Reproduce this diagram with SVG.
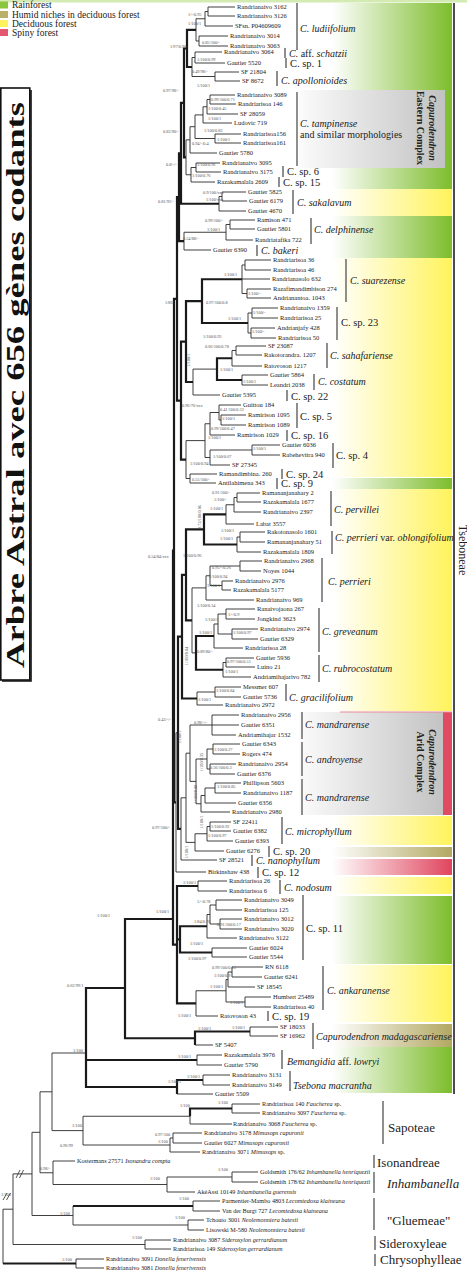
<svg xmlns="http://www.w3.org/2000/svg" width="467" height="1275" viewBox="0 0 467 1275">
<defs>
<linearGradient id="gG" gradientUnits="userSpaceOnUse" x1="332" y1="0" x2="452" y2="0"><stop offset="0" stop-color="#ffffff"/><stop offset="1" stop-color="#7dbd2b"/></linearGradient>
<linearGradient id="gY" gradientUnits="userSpaceOnUse" x1="332" y1="0" x2="452" y2="0"><stop offset="0" stop-color="#ffffff"/><stop offset="1" stop-color="#fff35c"/></linearGradient>
<linearGradient id="gO" gradientUnits="userSpaceOnUse" x1="332" y1="0" x2="452" y2="0"><stop offset="0" stop-color="#ffffff"/><stop offset="1" stop-color="#b3a862"/></linearGradient>
<linearGradient id="gR" gradientUnits="userSpaceOnUse" x1="332" y1="0" x2="452" y2="0"><stop offset="0" stop-color="#ffffff"/><stop offset="1" stop-color="#e0455e"/></linearGradient>
<linearGradient id="gK" gradientUnits="userSpaceOnUse" x1="299" y1="0" x2="445" y2="0"><stop offset="0" stop-color="#fbfbfb"/><stop offset="1" stop-color="#c2c2c2"/></linearGradient>
</defs>
<style>
.b{fill:none;stroke:#2a2a2a;stroke-width:0.9}
.t{fill:none;stroke:#1a1a1a;stroke-width:2.2}
.bar{stroke:#444;stroke-width:1.2}
.l{font-family:"Liberation Serif",serif;font-size:6.5px;fill:#222}
.o{font-family:"Liberation Serif",serif;font-size:6.2px;fill:#222}
.s{font-family:"Liberation Serif",serif;font-size:4.3px;fill:#555}
.c{font-family:"Liberation Serif",serif;font-size:10px;fill:#222}
.cs{font-family:"Liberation Serif",serif;font-size:10.5px;fill:#222}
.g{font-family:"Liberation Serif",serif;font-size:13px;fill:#222}
.i{font-style:italic}
.lg{font-family:"Liberation Serif",serif;font-size:9.5px;fill:#222}
</style>
<rect x="0" y="0" width="467" height="2.5" fill="#d3ebb2"/>
<g id="legend">
<rect x="0" y="1.5" width="8" height="7" fill="#8cc63f"/><text class="lg" x="12" y="8">Rainforest</text>
<rect x="0" y="11" width="8" height="7" fill="#b9b06a"/><text class="lg" x="12" y="17.5">Humid niches in deciduous forest</text>
<rect x="0" y="20" width="8" height="7" fill="#fff35c"/><text class="lg" x="12" y="26.5">Deciduous forest</text>
<rect x="0" y="29" width="8" height="7" fill="#e4576e"/><text class="lg" x="12" y="35.5">Spiny forest</text>
</g>
<g id="title">
<rect x="0.8" y="88" width="29" height="592" fill="none" stroke="#111" stroke-width="1.6"/>
<path d="M31 90V681H2" fill="none" stroke="#111" stroke-width="1.6"/>
<text transform="translate(23.5,385) rotate(-90)" text-anchor="middle" font-family="Liberation Serif, serif" font-weight="bold" font-size="25" textLength="566" lengthAdjust="spacingAndGlyphs" fill="#111">Arbre Astral avec 656 gènes codants</text>
</g>
<g id="habitat-bands">
<rect x="330" y="3" width="122" height="186" fill="url(#gG)"/>
<rect x="330" y="189" width="122" height="27" fill="url(#gY)"/>
<rect x="330" y="216" width="122" height="42" fill="url(#gG)"/>
<rect x="330" y="258" width="122" height="219" fill="url(#gY)"/>
<rect x="330" y="478" width="122" height="11" fill="url(#gG)"/>
<rect x="330" y="489" width="122" height="222" fill="url(#gY)"/>
<rect x="330" y="816" width="122" height="29" fill="url(#gY)"/>
<rect x="330" y="847" width="122" height="10" fill="url(#gO)"/>
<rect x="330" y="859" width="122" height="16" fill="url(#gR)"/>
<rect x="330" y="877" width="122" height="17" fill="url(#gY)"/>
<rect x="330" y="896" width="122" height="68" fill="url(#gG)"/>
<rect x="330" y="965" width="122" height="57" fill="url(#gY)"/>
<rect x="330" y="1024" width="122" height="23" fill="url(#gO)"/>
<rect x="330" y="1047" width="122" height="46" fill="url(#gG)"/>
</g>
<g id="eastern-complex">
<rect x="299" y="90" width="146" height="78" fill="url(#gK)"/>
<text transform="translate(429,128) rotate(90)" text-anchor="middle" font-family="Liberation Serif, serif" font-size="10" font-weight="bold" font-style="italic" fill="#222">Capurodendron</text>
<text transform="translate(417,128) rotate(90)" text-anchor="middle" font-family="Liberation Serif, serif" font-size="10" font-weight="bold" fill="#222">Eastern Complex</text>
</g>
<g id="arid-complex">
<rect x="299" y="712" width="144" height="103" fill="url(#gK)"/>
<rect x="443" y="712" width="9" height="103" fill="#e04a63"/>
<line x1="340" y1="712" x2="452" y2="712" stroke="#e9889a" stroke-width="1.2"/>
<text transform="translate(429,762) rotate(90)" text-anchor="middle" font-family="Liberation Serif, serif" font-size="10" font-weight="bold" font-style="italic" fill="#222">Capurodendron</text>
<text transform="translate(417,762) rotate(90)" text-anchor="middle" font-family="Liberation Serif, serif" font-size="10" font-weight="bold" fill="#222">Arid Complex</text>
</g>
<g id="tseboneae">
<line x1="454" y1="3" x2="454" y2="1094" stroke="#111" stroke-width="1.5"/>
<text transform="translate(458.5,550) rotate(90)" text-anchor="middle" font-family="Liberation Serif, serif" font-size="12" fill="#222">Tseboneae</text>
</g>
<g id="connectors">
<g class="b">
<path d="M235 7H208V16H235"/><path d="M208 11.5H205V26H233"/><path d="M228 36H199V46H228"/><path d="M205 18.75H196V41H199"/>
<path d="M222 52H195V63H225"/><path d="M239 72H215V81H240"/><path d="M195 57.5H192V76.5H215"/>
<path d="M235 95H210V104H236"/><path d="M210 99.5H207V114H238"/><path d="M207 106.75H203V123H232"/><path d="M241 134H215V143H241"/><path d="M203 114.9H195V138.5H215"/><path d="M195 126.7H190V153H217"/>
<path d="M220 163H196V172H221"/><path d="M196 167.5H191V182H215"/><path d="M190 139.85H186V174.75H191"/>
<path d="M246 192H222V201H247"/><path d="M222 196.5H219V211H246"/>
<path d="M255 220H230V229H255"/><path d="M230 224.5H226V240H253"/><path d="M226 232.25H184V250H211"/>
<path d="M271 260H245V270H271"/><path d="M271 289H247V298H271"/><path d="M245 265H242V293.5H247M242 279H270"/>
<path d="M278 308H252V318H278"/><path d="M275 328H251V338H276"/><path d="M252 313H248V333H251"/>
<path d="M266 346H236V355H262"/><path d="M236 350.5H232V366H262"/><path d="M268 375H242V385H268"/><path d="M217 369.1H193V395H220"/>
<path d="M246 415H221V425H246"/><path d="M241 405H219V420H221"/><path d="M219 412.5H210V435H235"/>
<path d="M280 445H252V455H280"/><path d="M252 450H210V465H230"/><path d="M210 423.75H205V457.5H210"/>
<path d="M217 474H190V483H216"/><path d="M205 440.6H186V478.5H190"/>
<path d="M260 493H237V502H261"/><path d="M237 497.5H234V512H261"/><path d="M234 504.75H226V524H254"/>
<path d="M265 532H240V542H265"/><path d="M240 537H237V552H261"/>
<path d="M262 561H240V571H261"/><path d="M233 581H222V590H231"/><path d="M240 566H210V585.5H222"/><path d="M210 575.75H206V600H254"/>
<path d="M255 609H226V619H255"/><path d="M258 629H232V639H258"/><path d="M226 614H218V634H232"/><path d="M218 624H214V648H243"/>
<path d="M254 658H226V667H255"/><path d="M226 662.5H223V677H251"/><path d="M206 587.9H192V652.9H196"/>
<path d="M241 687H215V697H241"/><path d="M215 692H197V705H223"/>
<path d="M239 715H212V735H236M212 725H239"/><path d="M240 744H213V754H240"/><path d="M236 764H210V774H235"/><path d="M213 749H207V769H210"/>
<path d="M241 783H215V793H241"/><path d="M215 788H205V803H236"/><path d="M205 795.5H201V812H230"/><path d="M207 759H196V803.75H201"/><path d="M212 725H190V781.4H196"/>
<path d="M231 822H210V831H231"/><path d="M210 826.5H207V841H233"/><path d="M207 833.75H195V851H224"/><path d="M190 753.2H186V842.4H195"/><path d="M186 797.8H181V860H217"/>
<path d="M178 732.8H176V872H206"/>
<path d="M227 881H198V891H227"/>
<path d="M242 900H216V910H242"/><path d="M242 919H220V929H242"/><path d="M216 905H210V924H220"/><path d="M210 914.5H207V938H237"/><path d="M247 948H212V957H247"/>
<path d="M263 967H232V977H262"/><path d="M232 972H228V987H255"/><path d="M271 997H245V1007H271"/><path d="M228 979.5H226V1002H245"/><path d="M226 990.75H196V1016H218"/>
<path d="M278 1027H250V1036H278"/><path d="M195 1045H213"/>
<path d="M222 1055H197V1065H222"/><path d="M230 1075H203V1085H230"/><path d="M177 1094H213"/>
<path d="M260 1104H232V1113H260"/><path d="M232 1124H231M190 1116.25V1124H231"/><path d="M202 1133H173V1143H202"/><path d="M173 1138H170V1152H200"/><path d="M190 1116.25H83V1145H170"/>
<path d="M86 1053H52V1130.6H83"/>
<path d="M258 1172H232V1182H258"/><path d="M232 1177H167V1192H195"/><path d="M75 1161H53V1184.5H167"/><path d="M52 1091.8H40V1172.75H53"/>
<path d="M220 1201H193V1211H220"/><path d="M204 1220H188V1230H204"/><path d="M73 1206V1225H188"/><path d="M40 1132.3H32V1215.5H73"/>
<path d="M171 1240H145V1249H171"/><path d="M32 1173.9H13V1244.5H145"/><path d="M104 1259H76V1268H104"/><path d="M13 1209.2H3V1263.5"/>
<path d="M16 1178L20 1170M19.5 1178L23.5 1170M3 1200L7 1193M6.5 1200L10.5 1193" stroke-width="0.8"/>
</g>
<g class="t">
<path d="M196 29.9H187V67H192"/><path d="M187 48.5H184V157.3H186"/><path d="M184 102.9H181V203.75H219"/><path d="M181 153.3H179V241.1H184"/>
<path d="M242 279.25H202V323H248"/><path d="M232 358.25H217V380H242"/><path d="M202 301.1H186V382H193"/><path d="M186 341.6H181V459.55H186"/><path d="M179 197.2H177V400.6H181"/>
<path d="M226 514.4H204V544.5H237"/><path d="M214 636H196V669.75H223"/><path d="M204 529.45H186V620.4H192"/><path d="M186 574.9H182V698.5H197"/>
<path d="M182 636.7H178V828.9H181"/><path d="M177 298.9H174V802.4H176"/>
<path d="M207 926.25H180V952.5H212"/><path d="M198 886H177V1003.4H196M177 939.4H180"/><path d="M174 550.65H173V944.7H177"/>
<path d="M250 1031.5H195V1045"/><path d="M173 919H125V1038.25H195"/><path d="M203 1080H177V1094"/>
<path d="M125 988H86V1087H177M86 1060H197"/><path d="M232 1108.5H190V1116.25"/><path d="M193 1206H73"/><path d="M3 1263.5H76"/>
</g>
</g>
<g id="support-values" class="s">
<text x="188" y="15.5">1/-/0.95</text><text x="188" y="24.5">1/100/1</text><text x="170" y="48">1/97/0.98</text><text x="202" y="44">0.85/100/-</text>
<text x="197" y="61">1/100/0.99</text><text x="192" y="73">0.49/98/-</text><text x="197" y="87">1/100/1</text><text x="163" y="92">0.97/98/-</text>
<text x="211" y="101">0.99/100/0.71</text><text x="208" y="109.5">1/100/0.45</text><text x="208" y="120">1/100/1</text><text x="204" y="132">1/100/0.83</text>
<text x="217" y="141">1/100/1</text><text x="192" y="144.5">0.94/-/0.4</text><text x="163" y="132.5">0.83/90/-</text>
<text x="197" y="166">1/100/0.96</text><text x="192" y="177">1/100/0.76</text><text x="166" y="166">0.8/-/-</text>
<text x="203" y="194">0.9/100/xxx</text><text x="206" y="201">1/100/xxx</text><text x="158" y="202.5">0.81/92/-</text>
<text x="205" y="222">0.99/100/-</text><text x="207" y="231">1/100/1</text><text x="183" y="240">0.54/88/-</text>
<text x="224" y="276">1/100/1</text><text x="248" y="294.5">1/100/-</text><text x="206" y="304">0.97/100/0.8</text><text x="165" y="304">1/86/-</text>
<text x="253" y="313.5">1/100/-</text><text x="228" y="320">1/100/1</text><text x="252" y="332.5">1/100/-</text><text x="203" y="337.5">1/100/0.93</text>
<text x="205" y="347.5">0.66/100/0.78</text><text transform="translate(190,360) rotate(-90)" text-anchor="middle">1/100/1</text>
<text x="220" y="370.5">1/100/1</text><text x="243" y="382.5">1/100/1</text><text x="182" y="406.5">0.96/76/xxx</text>
<text x="220" y="411">0.41/100/0.32</text><text x="222" y="419.5">1/100/1</text><text x="211" y="429.5">0.99/100/0.47</text>
<text x="208" y="438.5">1/100/1</text><text x="253" y="449.5">1/100/1</text><text x="213" y="457.5">1/100/0.67</text><text x="190" y="464.5">1/100/0.94</text>
<text x="192" y="481">0.55/100/-</text><text x="212" y="494">0.91/100/-</text><text x="214" y="500.5">1/100/-</text><text x="210" y="509.5">1/100/1</text>
<text transform="translate(201,517) rotate(-90)" text-anchor="middle">0.72/100/0.96</text>
<text x="221" y="532">1/100/1</text><text x="220" y="539.5">1/100/1</text><text x="148" y="557.5">0.54/84/xxx</text><text x="183" y="556.5">1/100/0.96</text>
<text x="212" y="568.5">0.95/-/0.26</text><text x="209" y="577.5">1/100/0.94</text><text x="207" y="586.5">1/100/1</text><text x="197" y="606.5">1/100/0.34</text>
<text x="228" y="615.5">1/-/0.9</text><text x="205" y="620.5">1/100/1</text><text x="233" y="633.5">1/100/0.97</text><text x="199" y="633.5">1/100/1</text>
<text x="197" y="652.5">0.89/80/-</text><text transform="translate(188,656) rotate(-90)" text-anchor="middle">1/100/0.84</text>
<text x="227" y="662.5">0.97/100/0.51</text><text x="225" y="672.5">1/100/1</text><text x="216" y="691.5">1/100/0.84</text><text x="198" y="700.5">1/100/1</text>
<text x="158" y="720.5">0.43/-/-</text><text x="194" y="723.5">0.98/-/-</text><text transform="translate(181,737) rotate(-90)" text-anchor="middle">1/100/1</text>
<text x="214" y="750.5">1/100/0.27</text><text transform="translate(203,762) rotate(-90)" text-anchor="middle">1/100/0.35</text>
<text x="210" y="768.5">0.56/100/0.3</text><text x="217" y="787.5">1/100/0.85</text><text transform="translate(197,794) rotate(-90)" text-anchor="middle">1/100/0.98</text>
<text x="152" y="828.5">0.97/100/-</text><text x="211" y="827.5">1/100/0.92</text><text x="208" y="836.5">1/100/0.97</text>
<text transform="translate(203,822) rotate(-90)" text-anchor="middle">1/100/1</text><text transform="translate(188,852) rotate(-90)" text-anchor="middle">1/100/1</text>
<text x="183" y="883.5">1/100/1</text><text x="197" y="903">1/-/0.78</text><text x="156" y="912.5">1/100/1</text><text x="194" y="922.5">1/84/0.76</text>
<text x="217" y="925.5">0.91/100/0.17</text><text x="190" y="944.5">1/100/1</text><text x="188" y="959.5">1/100/0.97</text>
<text x="212" y="968.5">0.99/100/0.55</text><text x="214" y="976.5">1/100/0.9</text><text x="210" y="987.5">1/100/1</text><text x="230" y="1004">1/100/1</text>
<text x="178" y="1016.5">1/100/1</text><text x="232" y="1028.5">1/100/1</text><text x="198" y="1030">1/100/1</text>
<text x="97" y="916.5">1/100/1</text><text x="67" y="986.5">0.62/99/1</text><text x="73" y="1051.5">1/100</text>
<text x="178" y="1057.5">1/100/1</text><text x="187" y="1077.5">1/100/1</text><text x="168" y="1082.5">1/100/1</text>
<text x="218" y="1103.5">1/100</text><text x="180" y="1107">1/100</text><text x="72" y="1126.5">1/100</text><text x="155" y="1135.5">0.97/100</text><text x="158" y="1142.5">1/100</text>
<text x="60" y="1146.5">0.96/99</text><text x="40" y="1169.5">0.98/-</text><text x="218" y="1170.5">1/100</text><text x="150" y="1180">1/100</text>
<text x="1" y="1195.5">1/100</text><text x="179" y="1199.5">1/100</text><text x="60" y="1214.5">1/100</text><text x="175" y="1218.5">1/100</text>
<text x="132" y="1238.5">1/100</text><text x="62" y="1260.5">1/100</text>
</g>
<g id="leaves" class="l">
<text x="237" y="9.2">Randrianaivo 3162</text><text x="237" y="18.2">Randrianaivo 3126</text><text x="235" y="28.2">SFsn. P04609609</text><text x="230" y="38.2">Randrianaivo 3014</text><text x="230" y="48.2">Randrianaivo 3063</text>
<text x="224" y="54.2">Randrianaivo 3064</text><text x="227" y="65.2">Gautier 5520</text><text x="241" y="74.2">SF 21804</text><text x="242" y="83.2">SF 8672</text>
<text x="237" y="97.2">Randrianaivo 3089</text><text x="238" y="106.2">Randriarisoa 146</text><text x="240" y="116.2">SF 28059</text><text x="234" y="125.2">Ludovic 719</text>
<text x="243" y="136.2">Randriarisoa156</text><text x="243" y="145.2">Randriarisoa161</text><text x="219" y="155.2">Gautier 5780</text>
<text x="222" y="165.2">Randrianaivo 3095</text><text x="223" y="174.2">Randrianaivo 3175</text><text x="217" y="184.2">Razakamalala 2609</text>
<text x="248" y="194.2">Gautier 5825</text><text x="249" y="203.2">Gautier 6179</text><text x="248" y="213.2">Gautier 4670</text>
<text x="257" y="222.2">Ramison 471</text><text x="257" y="231.2">Gautier 5801</text><text x="255" y="242.2">Randriatafika 722</text><text x="213" y="252.2">Gautier 6390</text>
<text x="273" y="262.2">Randriarisoa 36</text><text x="273" y="272.2">Randriarisoa 46</text><text x="272" y="281.2">Randrianasolo 632</text><text x="273" y="291.2">Razafimandimbison 274</text><text x="273" y="300.2">Andrianantoa. 1043</text>
<text x="280" y="310.2">Randrianaivo 1359</text><text x="280" y="320.2">Randriarisoa 25</text><text x="277" y="330.2">Andrianjafy 428</text><text x="278" y="340.2">Randriarisoa 50</text>
<text x="268" y="348.2">SF 23087</text><text x="264" y="357.2">Rakotorandra. 1207</text><text x="264" y="368.2">Ratovoson 1217</text>
<text x="270" y="377.2">Gautier 5864</text><text x="270" y="387.2">Leandri 2038</text><text x="222" y="397.2">Gautier 5395</text>
<text x="243" y="407.2">Guittou 184</text><text x="248" y="417.2">Ramirison 1095</text><text x="248" y="427.2">Ramirison 1089</text><text x="237" y="437.2">Ramirison 1029</text>
<text x="282" y="447.2">Gautier 6036</text><text x="282" y="457.2">Rabehevitra 940</text><text x="232" y="467.2">SF 27345</text>
<text x="219" y="476.2">Ramandimbina. 260</text><text x="218" y="485.2">Antilahimena 343</text>
<text x="262" y="495.2">Ramananjanahary 2</text><text x="263" y="504.2">Razakamalala 1677</text><text x="263" y="514.2">Randrianaivo 2397</text><text x="256" y="526.2">Labat 3557</text>
<text x="267" y="534.2">Rakotonasolo 1601</text><text x="267" y="544.2">Ramananjanahary 51</text><text x="263" y="554.2">Razakamalala 1809</text>
<text x="264" y="563.2">Randrianaivo 2968</text><text x="263" y="573.2">Noyes 1044</text><text x="235" y="583.2">Randrianaivo 2976</text><text x="233" y="592.2">Razakamalala 5177</text><text x="256" y="602.2">Randrianaivo 969</text>
<text x="257" y="611.2">Ranaivojaona 267</text><text x="257" y="621.2">Jongkind 3623</text><text x="260" y="631.2">Randrianaivo 2974</text><text x="260" y="641.2">Gautier 6329</text><text x="245" y="650.2">Randriarisoa 28</text>
<text x="256" y="660.2">Gautier 5936</text><text x="257" y="669.2">Luino 21</text><text x="253" y="679.2">Andriamihajarivo 782</text>
<text x="243" y="689.2">Messmer 607</text><text x="243" y="699.2">Gautier 5736</text><text x="225" y="707.2">Randrianaivo 2972</text>
<text x="241" y="717.2">Randrianaivo 2956</text><text x="241" y="727.2">Gautier 6351</text><text x="238" y="737.2">Andriamihajar 1532</text>
<text x="242" y="746.2">Gautier 6343</text><text x="242" y="756.2">Rogers 474</text><text x="238" y="766.2">Randrianaivo 2954</text><text x="237" y="776.2">Gautier 6376</text>
<text x="243" y="785.2">Phillipson 5603</text><text x="243" y="795.2">Randrianaivo 1187</text><text x="238" y="805.2">Gautier 6356</text><text x="232" y="814.2">Randrianaivo 2980</text>
<text x="233" y="824.2">SF 22411</text><text x="233" y="833.2">Gautier 6382</text><text x="235" y="843.2">Gautier 6393</text><text x="226" y="853.2">Gautier 6276</text>
<text x="219" y="862.2">SF 28521</text><text x="208" y="874.2">Birkinshaw 438</text><text x="229" y="883.2">Randriarisoa 26</text><text x="229" y="893.2">Randriarisoa 6</text>
<text x="244" y="902.2">Randrianaivo 3049</text><text x="244" y="912.2">Randriarisoa 125</text><text x="244" y="921.2">Randrianaivo 3012</text><text x="244" y="931.2">Randrianaivo 3020</text>
<text x="239" y="940.2">Randrianaivo 3122</text><text x="249" y="950.2">Gautier 6024</text><text x="249" y="959.2">Gautier 5544</text>
<text x="265" y="969.2">RN 6118</text><text x="264" y="979.2">Gautier 6241</text><text x="257" y="989.2">SF 18545</text><text x="273" y="999.2">Humbert 25489</text><text x="273" y="1009.2">Randriarisoa 40</text>
<text x="220" y="1018.2">Ratovoson 43</text><text x="280" y="1029.2">SF 18033</text><text x="280" y="1038.2">SF 16962</text><text x="215" y="1047.2">SF 5407</text>
<text x="224" y="1057.2">Razakamalala 3976</text><text x="224" y="1067.2">Gautier 5790</text><text x="232" y="1077.2">Randrianaivo 3131</text><text x="232" y="1087.2">Randrianaivo  3149</text><text x="215" y="1096.2">Gautier 5509</text>
</g>
<g id="outgroup-leaves" class="o">
<text x="262" y="1106.2">Randriarisoa 140 <tspan class="i">Faucherea</tspan> sp.</text>
<text x="262" y="1115.2">Randrianaivo 3097 <tspan class="i">Faucherea</tspan> sp.</text>
<text x="233" y="1126.2">Randrianaivo 3068 <tspan class="i">Faucherea</tspan> sp.</text>
<text x="204" y="1135.2">Randrianaivo 3178 <tspan class="i">Mimusops capuronii</tspan></text>
<text x="204" y="1145.2">Gautier 6027 <tspan class="i">Mimusops capuronii</tspan></text>
<text x="202" y="1154.2">Randrianaivo 3071 <tspan class="i">Mimusops</tspan> sp.</text>
<text x="77" y="1163.2">Kostermans 27571 <tspan class="i">Isonandra compta</tspan></text>
<text x="260" y="1174.2">Goldsmith 176/62 <tspan class="i">Inhambanella henriquezii</tspan></text>
<text x="260" y="1184.2">Goldsmith 178/62 <tspan class="i">Inhambanella henriquezii</tspan></text>
<text x="197" y="1194.2">AkéAssi 10149 <tspan class="i">Inhambanella guerensis</tspan></text>
<text x="222" y="1203.2">Parmentier-Mambo 4803 <tspan class="i">Lecomtedoxa klaineana</tspan></text>
<text x="222" y="1213.2">Van der Burgt 727 <tspan class="i">Lecomtedoxa klaineana</tspan></text>
<text x="206" y="1222.2">Tchouto 3001 <tspan class="i">Neolemonniera batesii</tspan></text>
<text x="206" y="1232.2">Lisowski M-580 <tspan class="i">Neolemonniera batesii</tspan></text>
<text x="173" y="1242.2">Randrianaivo 3087 <tspan class="i">Sideroxylon gerrardianum</tspan></text>
<text x="173" y="1251.2">Randriarisoa 149 <tspan class="i">Sideroxylon gerrardianum</tspan></text>
<text x="106" y="1261.2">Randrianaivo 3091 <tspan class="i">Donella fenerivensis</tspan></text>
<text x="106" y="1270.2">Randrianaivo 3081 <tspan class="i">Donella fenerivensis</tspan></text>
</g>
<g id="clade-labels">
<g id="c-ludiifolium"><line class="bar" x1="297" y1="3" x2="297" y2="50"/><text class="c i" x="300" y="31.5">C. ludiifolium</text></g>
<g id="c-schatzii"><line class="bar" x1="285" y1="48" x2="285" y2="58"/><text class="c" x="289" y="56.5"><tspan class="i">C.</tspan> aff. <tspan class="i">schatzii</tspan></text></g>
<g id="c-sp1"><line class="bar" x1="286" y1="58" x2="286" y2="68"/><text class="cs" x="290" y="66.7">C. sp. 1</text></g>
<g id="c-apollonioides"><line class="bar" x1="277" y1="71" x2="277" y2="86"/><text class="c i" x="281" y="83.5">C. apollonioides</text></g>
<g id="c-tampinense"><line class="bar" x1="297" y1="92" x2="297" y2="166"/><text class="c i" x="300" y="126.5">C. tampinense</text><text class="c" x="300" y="137.5">and similar morphologies</text></g>
<g id="c-sp6"><line class="bar" x1="283" y1="166" x2="283" y2="177"/><text class="cs" x="287" y="174.7">C. sp. 6</text></g>
<g id="c-sp15"><line class="bar" x1="279" y1="177" x2="279" y2="187"/><text class="cs" x="283" y="185.7">C. sp. 15</text></g>
<g id="c-sakalavum"><line class="bar" x1="293" y1="190" x2="293" y2="214"/><text class="c i" x="297" y="205.5">C. sakalavum</text></g>
<g id="c-delphinense"><line class="bar" x1="311" y1="218" x2="311" y2="244"/><text class="c i" x="314" y="232.5">C. delphinense</text></g>
<g id="c-bakeri"><line class="bar" x1="257" y1="245" x2="257" y2="256"/><text class="c i" x="261" y="253.5">C. bakeri</text></g>
<g id="c-suarezense"><line class="bar" x1="346" y1="259" x2="346" y2="302"/><text class="c i" x="350" y="283.5">C. suarezense</text></g>
<g id="c-sp23"><line class="bar" x1="337" y1="307" x2="337" y2="340"/><text class="cs" x="341" y="325.7">C. sp. 23</text></g>
<g id="c-sahafariense"><line class="bar" x1="327" y1="343" x2="327" y2="368"/><text class="c i" x="330" y="358.5">C. sahafariense</text></g>
<g id="c-costatum"><line class="bar" x1="314" y1="374" x2="314" y2="390"/><text class="c i" x="318" y="384.5">C. costatum</text></g>
<g id="c-sp22"><line class="bar" x1="287" y1="390" x2="287" y2="401"/><text class="cs" x="291" y="399.8" font-size="11.5">C. sp. 22</text></g>
<g id="c-sp5"><line class="bar" x1="297" y1="403" x2="297" y2="428"/><text class="cs" x="300" y="419.7">C. sp. 5</text></g>
<g id="c-sp16"><line class="bar" x1="287" y1="430" x2="287" y2="441"/><text class="cs" x="291" y="438.7">C. sp. 16</text></g>
<g id="c-sp4"><line class="bar" x1="333" y1="443" x2="333" y2="468"/><text class="cs" x="336" y="458.7">C. sp. 4</text></g>
<g id="c-sp24"><line class="bar" x1="282" y1="469" x2="282" y2="479"/><text class="cs" x="286" y="477.7">C. sp. 24</text></g>
<g id="c-sp9"><line class="bar" x1="277" y1="478" x2="277" y2="489"/><text class="cs" x="281" y="486.7">C. sp. 9</text></g>
<g id="c-pervillei"><line class="bar" x1="331" y1="491" x2="331" y2="526"/><text class="c i" x="334" y="512.5">C. pervillei</text></g>
<g id="c-oblongifolium"><line class="bar" x1="332" y1="531" x2="332" y2="554"/><text class="c" x="335" y="540.5"><tspan class="i">C. perrieri</tspan> var. <tspan class="i">oblongifolium</tspan></text></g>
<g id="c-perrieri"><line class="bar" x1="322" y1="558" x2="322" y2="602"/><text class="c i" x="328" y="584.5">C. perrieri</text></g>
<g id="c-greveanum"><line class="bar" x1="319" y1="608" x2="319" y2="652"/><text class="c i" x="322" y="634.5">C. greveanum</text></g>
<g id="c-rubrocostatum"><line class="bar" x1="319" y1="655" x2="319" y2="682"/><text class="c i" x="322" y="671.5">C. rubrocostatum</text></g>
<g id="c-gracilifolium"><line class="bar" x1="286" y1="684" x2="286" y2="701"/><text class="c i" x="289" y="700.5">C. gracilifolium</text></g>
<g id="c-mandrarense1"><line class="bar" x1="302" y1="712" x2="302" y2="739"/><text class="c i" x="305" y="727.5">C. mandrarense</text></g>
<g id="c-androyense"><line class="bar" x1="302" y1="742" x2="302" y2="776"/><text class="c i" x="305" y="762.5">C. androyense</text></g>
<g id="c-mandrarense2"><line class="bar" x1="302" y1="779" x2="302" y2="815"/><text class="c i" x="305" y="800.5">C. mandrarense</text></g>
<g id="c-microphyllum"><line class="bar" x1="282" y1="817" x2="282" y2="844"/><text class="c i" x="285" y="834.5">C. microphyllum</text></g>
<g id="c-sp20"><line class="bar" x1="269" y1="846" x2="269" y2="857"/><text class="cs" x="273" y="854.7">C. sp. 20</text></g>
<g id="c-nanophyllum"><line class="bar" x1="252" y1="855" x2="252" y2="866"/><text class="c i" x="256" y="863.5">C. nanophyllum</text></g>
<g id="c-sp12"><line class="bar" x1="258" y1="867" x2="258" y2="878"/><text class="cs" x="262" y="875.7">C. sp. 12</text></g>
<g id="c-nodosum"><line class="bar" x1="280" y1="880" x2="280" y2="894"/><text class="c i" x="284" y="890.5">C. nodosum</text></g>
<g id="c-sp11"><line class="bar" x1="303" y1="895" x2="303" y2="960"/><text class="cs" x="306" y="931.7">C. sp. 11</text></g>
<g id="c-ankaranense"><line class="bar" x1="323" y1="966" x2="323" y2="1010"/><text class="c i" x="327" y="993.5">C. ankaranense</text></g>
<g id="c-sp19"><line class="bar" x1="268" y1="1011" x2="268" y2="1021"/><text class="cs" x="272" y="1019.7">C. sp. 19</text></g>
<g id="c-madagascariense"><line class="bar" x1="313" y1="1023" x2="313" y2="1049"/><text class="c i" x="316" y="1039.5">Capurodendron madagascariense</text></g>
<g id="c-bemangidia"><line class="bar" x1="282" y1="1050" x2="282" y2="1069"/><text class="c" x="287" y="1064.5"><tspan class="i">Bemangidia</tspan> aff. <tspan class="i">lowryi</tspan></text></g>
<g id="c-tsebona"><line class="bar" x1="290" y1="1071" x2="290" y2="1091"/><text class="c i" x="293" y="1088.5">Tsebona macrantha</text></g>
<g id="t-sapoteae"><line class="bar" x1="383" y1="1101" x2="383" y2="1144"/><text class="g" x="388" y="1131.5">Sapoteae</text></g>
<g id="t-isonandreae"><line class="bar" x1="374" y1="1155" x2="374" y2="1168"/><text class="g" x="377" y="1166.5">Isonandreae</text></g>
<g id="t-inhambanella"><line class="bar" x1="374" y1="1172" x2="374" y2="1193"/><text class="g i" x="387" y="1187.5">Inhambanella</text></g>
<g id="t-gluemeae"><line class="bar" x1="374" y1="1198" x2="374" y2="1230"/><text class="g" x="387" y="1224.5">"Gluemeae"</text></g>
<g id="t-sideroxyleae"><line class="bar" x1="375" y1="1236" x2="375" y2="1250"/><text class="g" x="379" y="1247.5">Sideroxyleae</text></g>
<g id="t-chrysophylleae"><line class="bar" x1="375" y1="1254" x2="375" y2="1266"/><text class="g" x="380" y="1263.5">Chrysophylleae</text></g>
</g>
</svg>
